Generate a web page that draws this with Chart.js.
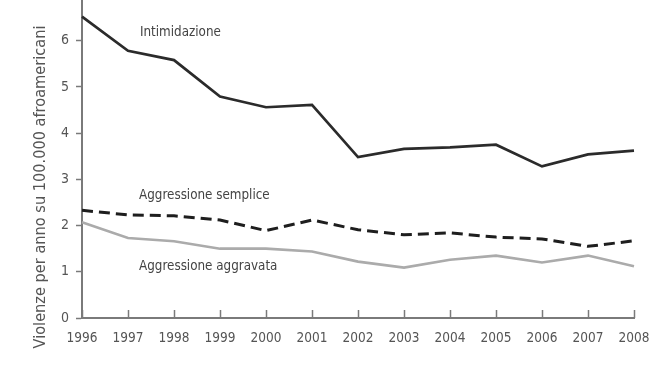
<!DOCTYPE html>
<html><head><meta charset="utf-8">
<script src="https://cdn.jsdelivr.net/npm/chart.js@4"></script>
<style>html,body{margin:0;padding:0;background:#fff}#wrap{width:662px;height:375px}</style>
</head><body><div id="wrap"><canvas id="c" width="662" height="375"></canvas></div>
<script>
const years = ['1996','1997','1998','1999','2000','2001','2002','2003','2004','2005','2006','2007','2008'];
const intimidazione = [6.52,5.78,5.58,4.79,4.56,4.61,3.48,3.66,3.69,3.75,3.28,3.54,3.62];
const aggressioneSemplice = [2.33,2.23,2.21,2.12,1.89,2.12,1.91,1.80,1.84,1.75,1.71,1.55,1.67];
const aggressioneAggravata = [2.07,1.73,1.66,1.50,1.50,1.44,1.22,1.09,1.26,1.35,1.20,1.35,1.12];
const yTitle = 'Violenze per anno su 100.000 afroamericani';

const FONT = '"DejaVu Sans Condensed", "Liberation Sans Narrow", "Liberation Sans", sans-serif';
const TXT = '#555';
const AX = '#7a7a7a';

const seriesLabels = [
  {text:'Intimidazione', xi:1.26, v:6.17},
  {text:'Aggressione semplice', xi:1.24, v:2.64},
  {text:'Aggressione aggravata', xi:1.24, v:1.11}
];

const extras = {
  id:'extras',
  afterDraw(chart){
    const ctx = chart.ctx, xs = chart.scales.x, ys = chart.scales.y, area = chart.chartArea;
    ctx.save();
    ctx.strokeStyle = AX; ctx.lineWidth = 1.5;
    xs.ticks.forEach((t,i)=>{
      const px = Math.round(xs.getPixelForTick(i))+0.5;
      ctx.beginPath(); ctx.moveTo(px, area.bottom); ctx.lineTo(px, area.bottom-8); ctx.stroke();
    });
    ctx.fillStyle = '#444';
    ctx.font = '13.3px ' + FONT;
    ctx.textBaseline = 'middle'; ctx.textAlign = 'left';
    seriesLabels.forEach(l=>{
      const px = xs.left + (xs.right - xs.left) * l.xi / (years.length-1);
      ctx.fillText(l.text, px, ys.getPixelForValue(l.v));
    });
    ctx.fillStyle = TXT;
    ctx.font = '16.2px ' + FONT;
    ctx.translate(41, 187);
    ctx.rotate(-Math.PI/2);
    ctx.textAlign = 'center';
    ctx.fillText(yTitle, 0, 0);
    ctx.restore();
  }
};

new Chart(document.getElementById('c'), {
  type:'line',
  data:{
    labels: years,
    datasets:[
      {label:'Intimidazione', data:intimidazione, borderColor:'#2b2b2b', borderWidth:2.7, pointRadius:0, tension:0, fill:false},
      {label:'Aggressione semplice', data:aggressioneSemplice, borderColor:'#1e1e1e', borderWidth:3, borderDash:[11,6], pointRadius:0, tension:0, fill:false},
      {label:'Aggressione aggravata', data:aggressioneAggravata, borderColor:'#ababab', borderWidth:2.6, pointRadius:0, tension:0, fill:false}
    ]
  },
  options:{
    responsive:false, animation:false,
    layout:{padding:{left:0,right:28,top:0,bottom:0}},
    plugins:{legend:{display:false}, tooltip:{enabled:false}},
    scales:{
      x:{
        offset:false,
        grid:{display:true, drawOnChartArea:false, drawTicks:false},
        border:{display:true, color:AX, width:2},
        ticks:{color:TXT, font:{family:FONT, size:13.5}, padding:12, maxRotation:0, autoSkip:false},
        afterFit(s){ s.height = 57; s.paddingLeft = 0; s.paddingRight = 0; }
      },
      y:{
        min:0, max:6.88,
        grid:{display:true, drawOnChartArea:false, drawTicks:true, tickLength:6, color:AX, tickWidth:1.5},
        border:{display:true, color:AX, width:2},
        ticks:{stepSize:1, color:TXT, font:{family:FONT, size:14}, padding:7},
        afterBuildTicks(s){ s.ticks = s.ticks.filter(t=>Number.isInteger(t.value)); },
        afterFit(s){ s.width = 82; s.paddingTop = 0; s.paddingBottom = 0; }
      }
    }
  },
  plugins:[extras]
});
</script></body></html>
